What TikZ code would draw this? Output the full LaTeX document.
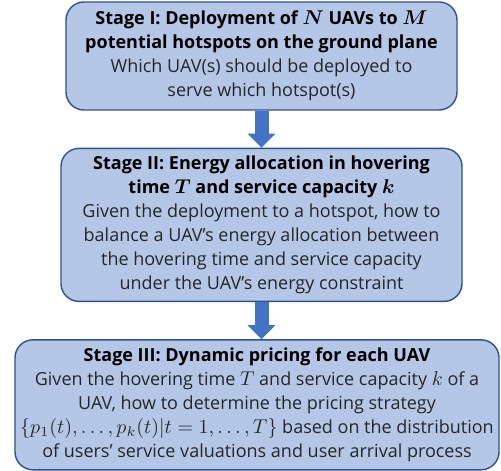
\documentclass[tikz,border=0pt]{standalone}
\usepackage{amsmath}
\usepackage{bm}
\usepackage{fontspec}
\setmainfont{Open Sans}
\DeclareMathSizes{9}{10.2}{7.3}{6}
\usetikzlibrary{positioning,arrows.meta}
\definecolor{boxfill}{HTML}{B4C7E7}
\definecolor{boxline}{HTML}{2F528F}
\definecolor{arrowfill}{HTML}{4472C4}
\begin{document}
\begin{tikzpicture}[x=0.5pt,y=-0.5pt,
  stage/.style={draw=boxline,fill=boxfill,line width=0.7pt,rounded corners=9pt,
    align=center,inner sep=1pt,font=\fontsize{9}{12}\selectfont,text=black!85},
  flow/.style={draw=arrowfill,line width=7pt,-{Triangle[length=7pt,width=13.5pt]}}]
\useasboundingbox (0,0) rectangle (501,470);
\node[stage,minimum width=195.5pt,minimum height=54pt] (s1) at (261.5,56)
  {\textbf{\color{black}Stage I: Deployment of $\bm{N}$ UAVs to $\bm{M}$}\\
   \textbf{\color{black}potential hotspots on the ground plane}\\
   Which UAV(s) should be deployed to\\
   serve which hotspot(s)};
\node[stage,minimum width=200.5pt,minimum height=76.5pt,below=18.5pt of s1] (s2)
  {\textbf{\color{black}Stage II: Energy allocation in hovering}\\
   \textbf{\color{black}time $\bm{T}$ and service capacity $\bm{k}$}\\
   Given the deployment to a hotspot, how to\\
   balance a UAV's energy allocation between\\
   the hovering time and service capacity\\
   under the UAV's energy constraint};
\node[stage,minimum width=242pt,minimum height=65pt,below=18.5pt of s2,xshift=-2.25pt] (s3)
  {\textbf{\color{black}Stage III: Dynamic pricing for each UAV}\\
   Given the hovering time $T$ and service capacity $k$ of a\\
   UAV, how to determine the pricing strategy\\
   $\{p_1(t),\ldots,p_k(t)|t=1,\ldots,T\}$ based on the distribution\\
   of users' service valuations and user arrival process};
\draw[flow] (s1.south) -- (s2.north);
\draw[flow] (s2.south) -- (s2.south |- s3.north);
\end{tikzpicture}
\end{document}
